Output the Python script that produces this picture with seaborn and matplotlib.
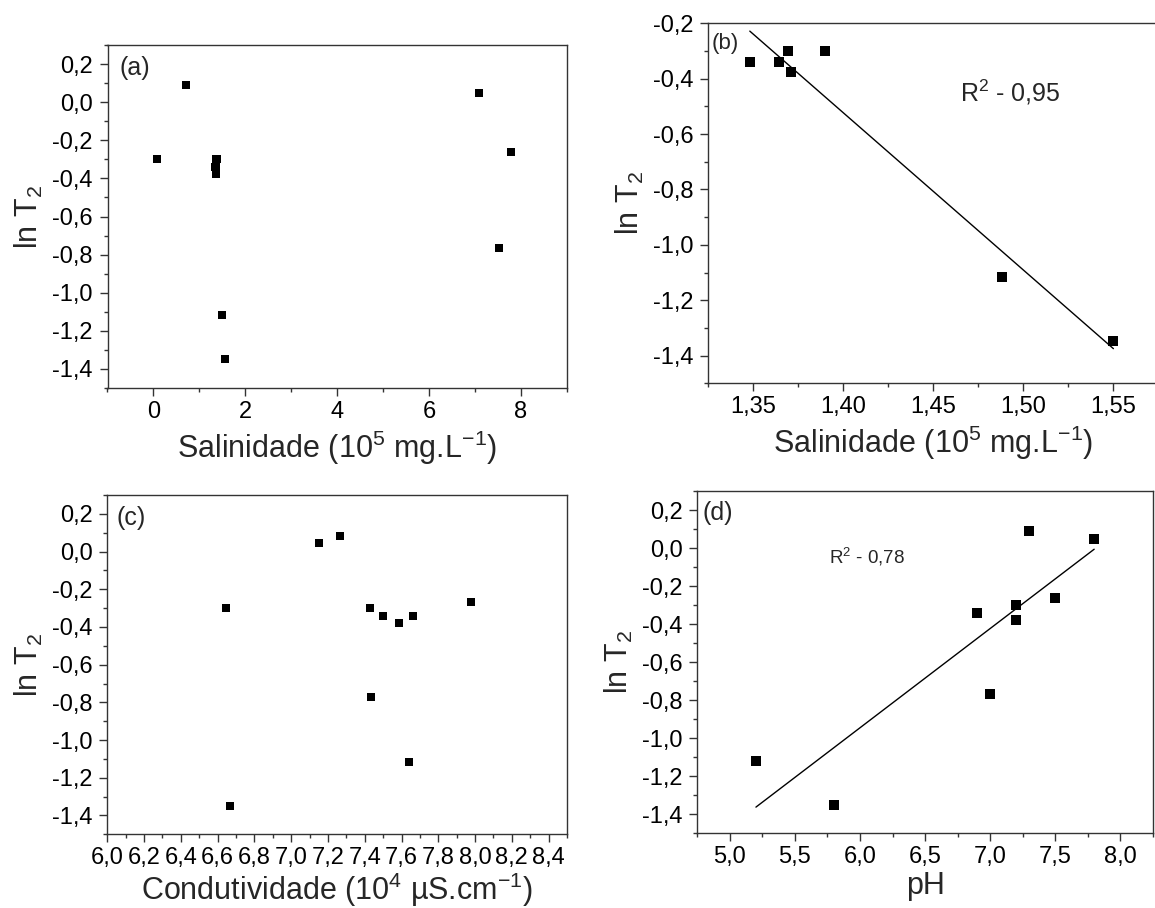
import matplotlib
matplotlib.use("Agg")
import matplotlib.pyplot as plt
import seaborn as sns
from matplotlib.ticker import MultipleLocator, FuncFormatter

# (a) ln T2 against salinity, all samples
sal_all = [0.07, 0.71, 1.348, 1.364, 1.369, 1.371, 1.39, 1.488, 1.55, 7.08, 7.53, 7.78]
lnT2_sal_all = [-0.30, 0.09, -0.34, -0.34, -0.30, -0.376, -0.30, -1.115, -1.347, 0.05, -0.766, -0.262]

# (b) narrow salinity range, fitted with a straight line
sal_sub = [1.348, 1.364, 1.369, 1.371, 1.39, 1.488, 1.55]
lnT2_sal_sub = [-0.34, -0.34, -0.30, -0.376, -0.30, -1.115, -1.347]

# (c) ln T2 against conductivity
cond = [6.647, 6.665, 7.151, 7.266, 7.429, 7.435, 7.498, 7.589, 7.643, 7.661, 7.98]
lnT2_cond = [-0.30, -1.351, 0.048, 0.085, -0.30, -0.769, -0.341, -0.380, -1.119, -0.341, -0.265]

# (d) ln T2 against pH, fitted with a straight line
ph = [5.2, 5.8, 6.9, 7.0, 7.2, 7.2, 7.3, 7.5, 7.8]
lnT2_ph = [-1.118, -1.351, -0.341, -0.767, -0.301, -0.380, 0.088, -0.263, 0.048]

panel_tags = ["(a)", "(b)", "(c)", "(d)"]
r2_labels = ["R$^2$ - 0,95", "R$^2$ - 0,78"]
ylabel = "ln T$_2$"
xlabel_sal = "Salinidade (10$^5$ mg.L$^{-1}$)"
xlabel_cond = "Condutividade (10$^4$ \u00b5S.cm$^{-1}$)"
xlabel_ph = "pH"

sns.set_theme(style="ticks")
plt.rcParams.update({
    "font.family": ["Liberation Sans", "DejaVu Sans"],
    "mathtext.fontset": "custom",
    "mathtext.rm": "Liberation Sans",
    "mathtext.it": "Liberation Sans:italic",
    "mathtext.bf": "Liberation Sans:bold",
    "mathtext.default": "regular",
    "axes.unicode_minus": False,
    "axes.facecolor": "white",
    "figure.facecolor": "white",
})

W, H = 1155, 908
fig = plt.figure(figsize=(W / 100, H / 100), dpi=100)


def box(left, top, right, bottom):
    return [left / W, 1 - bottom / H, (right - left) / W, (bottom - top) / H]


def comma_fmt(decimals):
    def f(v, pos):
        if abs(v) < 1e-9:
            v = 0.0
        return f"{v:.{decimals}f}".replace(".", ",")
    return FuncFormatter(f)


def style(ax, xlim, ylim, xmaj, xmin, ymaj, ymin, xdec, ydec):
    ax.set_xlim(*xlim)
    ax.set_ylim(*ylim)
    ax.xaxis.set_major_locator(MultipleLocator(xmaj))
    ax.xaxis.set_minor_locator(MultipleLocator(xmin))
    ax.yaxis.set_major_locator(MultipleLocator(ymaj))
    ax.yaxis.set_minor_locator(MultipleLocator(ymin))
    ax.xaxis.set_major_formatter(comma_fmt(xdec))
    ax.yaxis.set_major_formatter(comma_fmt(ydec))
    ax.tick_params(which="both", direction="out", top=False, right=False,
                   color="#333333", width=1.0, labelcolor="black")
    ax.tick_params(which="major", length=5.5, labelsize=17)
    ax.tick_params(axis="x", which="major", pad=4)
    ax.tick_params(axis="y", which="major", pad=5)
    ax.tick_params(which="minor", length=3)
    for sp in ax.spines.values():
        sp.set_visible(True)
        sp.set_color("#333333")
        sp.set_linewidth(1.0)
    ax.grid(False)


ax_a = fig.add_axes(box(107.5, 45, 567, 388))
ax_b = fig.add_axes(box(708.4, 23.3, 1158.4, 383.3))
ax_c = fig.add_axes(box(107.3, 495, 567, 834.3))
ax_d = fig.add_axes(box(697.4, 491, 1152.7, 833.3))

small_sq, big_sq = 33, 58

# (a)
sns.scatterplot(x=sal_all, y=lnT2_sal_all, ax=ax_a, marker="s", color="black",
                s=small_sq, linewidth=0)
style(ax_a, (-1, 9), (-1.5, 0.3), 2, 1, 0.2, 0.1, 0, 1)

# (b)
sns.regplot(x=sal_sub, y=lnT2_sal_sub, ax=ax_b, scatter=False, ci=None,
            color="black", line_kws={"lw": 1.0})
sns.scatterplot(x=sal_sub, y=lnT2_sal_sub, ax=ax_b, marker="s", color="black",
                s=big_sq, linewidth=0)
style(ax_b, (1.325, 1.575), (-1.5, -0.2), 0.05, 0.025, 0.2, 0.1, 2, 1)

# (c)
sns.scatterplot(x=cond, y=lnT2_cond, ax=ax_c, marker="s", color="black",
                s=small_sq, linewidth=0)
style(ax_c, (6.0, 8.5), (-1.5, 0.3), 0.2, 0.1, 0.2, 0.1, 1, 1)

# (d)
sns.regplot(x=ph, y=lnT2_ph, ax=ax_d, scatter=False, ci=None,
            color="black", line_kws={"lw": 1.0})
sns.scatterplot(x=ph, y=lnT2_ph, ax=ax_d, marker="s", color="black",
                s=big_sq, linewidth=0)
style(ax_d, (4.75, 8.25), (-1.5, 0.3), 0.5, 0.25, 0.2, 0.1, 1, 1)

for ax, xl, pad in [(ax_a, xlabel_sal, 4), (ax_b, xlabel_sal, 4),
                    (ax_c, xlabel_cond, 1), (ax_d, xlabel_ph, 2)]:
    ax.set_xlabel(xl, fontsize=22, labelpad=pad)
    ax.set_ylabel(ylabel, fontsize=22, labelpad=5)

ax_a.text(0.027, 0.912, panel_tags[0], transform=ax_a.transAxes, fontsize=18, va="baseline")
ax_b.text(0.008, 0.929, panel_tags[1], transform=ax_b.transAxes, fontsize=16, va="baseline")
ax_c.text(0.020, 0.911, panel_tags[2], transform=ax_c.transAxes, fontsize=18, va="baseline")
ax_d.text(0.012, 0.914, panel_tags[3], transform=ax_d.transAxes, fontsize=18, va="baseline")

ax_b.text(1.4645, -0.483, r2_labels[0], fontsize=18, va="baseline")
ax_d.text(5.76, -0.079, r2_labels[1], fontsize=13.5, va="baseline")

fig.savefig("out.png", dpi=100)
